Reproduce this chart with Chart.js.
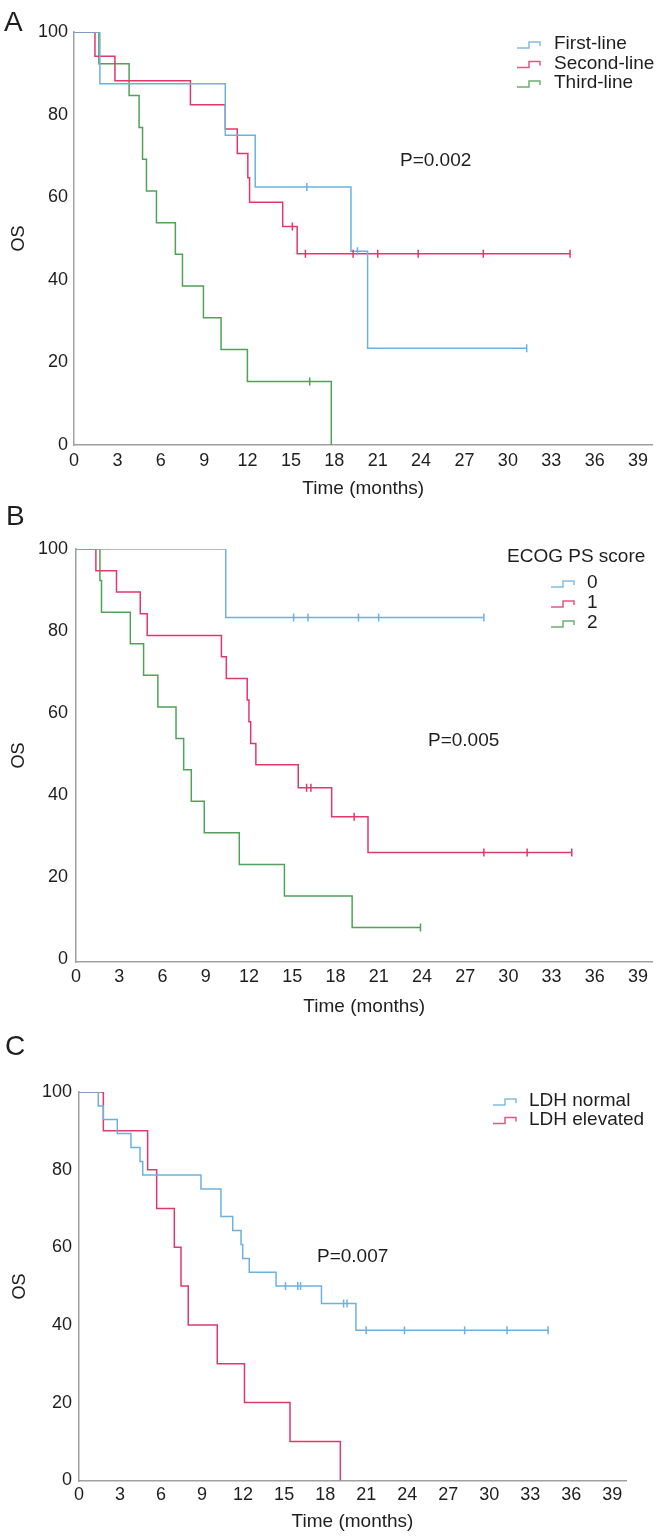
<!DOCTYPE html>
<html><head><meta charset="utf-8">
<script src="https://cdn.jsdelivr.net/npm/chart.js@4.4.1/dist/chart.umd.min.js"></script>
<style>
html,body{margin:0;padding:0;background:#fff;}
body{width:658px;height:1537px;position:relative;overflow:hidden;}
.pane{position:absolute;left:0;width:658px;}
canvas{display:block;}
</style></head><body>
<div class="pane" style="top:0;height:505px"><canvas id="cA" width="658" height="505"></canvas></div>
<div class="pane" style="top:505px;height:520px"><canvas id="cB" width="658" height="520"></canvas></div>
<div class="pane" style="top:1025px;height:512px"><canvas id="cC" width="658" height="512"></canvas></div>
<script>
// ---------- tick labels ----------
const xTickVals = [0,3,6,9,12,15,18,21,24,27,30,33,36,39];
const yTickVals = [0,20,40,60,80,100];

// ---------- Panel A : treatment line ----------
const aNames = ['First-line','Second-line','Third-line'];
const aFirstT  = [0,1.79,10.46,12.53,19.15,20.3,31.3];
const aFirstS  = [100,87.5,75,62.5,46.9,23.4,23.4];
const aFirstCT = [16.1,19.6,31.3];
const aFirstCS = [62.5,46.9,23.4];
const aSecondT  = [0,1.45,2.83,8.05,10.46,11.29,12.02,12.14,14.43,15.43,34.3];
const aSecondS  = [100,94.1,88.2,82.4,76.5,70.6,64.7,58.8,52.9,46.3,46.3];
const aSecondCT = [15.1,16.0,19.3,21.0,23.8,28.3,34.3];
const aSecondCS = [52.9,46.3,46.3,46.3,46.3,46.3,46.3];
const aThirdT  = [0,1.72,3.81,4.5,4.74,5.01,5.70,7.01,7.50,8.95,10.17,11.99,17.79];
const aThirdS  = [100,92.3,84.6,76.9,69.2,61.5,53.8,46.2,38.5,30.8,23.1,15.4,0];
const aThirdCT = [16.3];
const aThirdCS = [15.4];
const aP = 'P=0.002';

// ---------- Panel B : ECOG PS score ----------
const bTitle = 'ECOG PS score';
const bNames = ['0','1','2'];
const b0T  = [0,10.39,28.3];
const b0S  = [100,83.3,83.3];
const b0CT = [15.1,16.1,19.6,21.0,28.3];
const b0CS = [83.3,83.3,83.3,83.3,83.3];
const b1T  = [0,1.38,2.81,4.46,4.94,10.09,10.43,11.88,12.0,12.12,12.48,15.42,17.74,20.26,34.4];
const b1S  = [100,94.7,89.5,84.2,78.9,73.7,68.4,63.2,57.9,52.6,47.4,41.8,34.7,26.0,26.0];
const b1CT = [16.0,16.3,19.3,28.3,31.3,34.4];
const b1CS = [41.8,41.8,34.7,26.0,26.0,26.0];
const b2T  = [0,1.66,1.77,3.77,4.69,5.68,6.94,7.47,8.0,8.9,11.33,14.46,19.16,23.9];
const b2S  = [100,92.3,84.6,76.9,69.2,61.5,53.8,46.2,38.5,30.8,23.1,15.4,7.7,7.7];
const b2CT = [23.9];
const b2CS = [7.7];
const bP = 'P=0.005';

// ---------- Panel C : LDH ----------
const cNames = ['LDH normal','LDH elevated'];
const cNormT  = [0,1.41,1.78,2.80,3.80,4.46,4.66,8.92,10.38,11.24,11.85,11.97,12.45,14.41,17.73,20.25,34.3];
const cNormS  = [100,96.4,92.9,89.3,85.7,82.1,78.6,75.0,67.9,64.3,60.7,57.1,53.6,50.0,45.5,38.6,38.6];
const cNormCT = [15.1,16.0,16.2,19.35,19.6,21.0,23.8,28.2,31.3,34.3];
const cNormCS = [50,50,50,45.5,45.5,38.6,38.6,38.6,38.6,38.6];
const cElevT  = [0,1.78,5.02,5.68,6.97,7.46,7.99,10.11,12.1,15.43,19.11];
const cElevS  = [100,90,80,70,60,50,40,30,20,10,0];
const cP = 'P=0.007';

// ---------- styling ----------
const FONT = "'Liberation Sans', Arial, Helvetica, sans-serif";
const TEXT = '#1e1e1e';
const AXIS = '#a0a0a0';
const BLUE = '#6db1de', RED = '#e0386b', GREEN = '#52a05a';

function curve(label, color, T, S) {
  return {type:'line', label, legendItem:true, data:T.map((t,i)=>({x:t,y:S[i]})),
    borderColor:color, backgroundColor:color, borderWidth:1.5, stepped:'before',
    pointRadius:0, pointHoverRadius:0, fill:false, order:2};
}
function censor(color, T, S) {
  return {type:'line', label:'', legendItem:false, data:T.map((t,i)=>({x:t,y:S[i]})),
    borderColor:color, backgroundColor:color, borderWidth:1.5, showLine:false,
    pointStyle:'line', rotation:90, pointRadius:4, pointHoverRadius:4, order:1};
}

const decor = {
  id:'decor',
  afterDraw(chart, args, o) {
    const ctx = chart.ctx;
    ctx.save();
    ctx.fillStyle = TEXT;
    ctx.textBaseline = 'middle';
    ctx.textAlign = 'left';
    ctx.font = o.letterSize + 'px ' + FONT;
    ctx.fillText(o.letter, o.letterX, o.letterY);
    ctx.font = '19px ' + FONT;
    ctx.fillText(o.p, o.pX, o.pY);
    if (o.legendTitle) ctx.fillText(o.legendTitle, o.ltX, o.ltY);
    const items = chart.data.datasets.filter(d => d.legendItem);
    items.forEach((d, i) => {
      const y = o.legY + i * o.legDy;
      const x = o.legX;
      ctx.strokeStyle = d.borderColor;
      ctx.globalAlpha = 0.85;
      ctx.lineWidth = 1.5;
      ctx.beginPath();
      ctx.moveTo(x, y + 4); ctx.lineTo(x + 12, y + 4); ctx.lineTo(x + 12, y - 2);
      ctx.lineTo(x + 23, y - 2); ctx.lineTo(x + 23, y + 2);
      ctx.stroke();
      ctx.globalAlpha = 1;
      ctx.fillText(d.label, o.legTextX, y);
    });
    ctx.restore();
  }
};

function makeScales(o) {
  return {
    x: {
      type:'linear', min:0, max:40,
      afterBuildTicks: s => { s.ticks = xTickVals.map(v => ({value:v})); },
      afterFit: s => { s.height = o.xH; },
      grid:{display:false, drawTicks:false},
      border:{display:true, color:AXIS, width:1.5},
      ticks:{color:TEXT, font:{size:18, family:FONT}, padding:o.xPad, maxRotation:0, autoSkip:false,
        callback:(v)=>String(v)},
      title:{display:true, text:'Time (months)', color:TEXT, font:{size:19, family:FONT},
        padding:{top:0, bottom:o.xTitlePad}}
    },
    y: {
      type:'linear', min:o.yMin, max:100,
      afterBuildTicks: s => { s.ticks = yTickVals.map(v => ({value:v})); },
      afterFit: s => { s.width = o.yW; },
      grid:{display:false, drawTicks:false},
      border:{display:true, color:AXIS, width:1.5},
      ticks:{color:TEXT, font:{size:18, family:FONT}, padding:o.yPad, callback:(v)=>String(v)},
      title:{display:true, text:'OS', color:TEXT, font:{size:18, family:FONT},
        padding:{top:o.yTitlePad, bottom:0}}
    }
  };
}

function makeChart(id, datasets, lay, sc, dec) {
  return new Chart(document.getElementById(id), {
    type:'line',
    data:{datasets},
    options:{
      responsive:false, animation:false, devicePixelRatio:1,
      events:[],
      layout:{padding:lay},
      plugins:{legend:{display:false}, tooltip:{enabled:false}, decor:dec},
      scales:makeScales(sc)
    },
    plugins:[decor]
  });
}

makeChart('cA', [
  curve(aNames[0], BLUE, aFirstT, aFirstS),
  curve(aNames[1], RED, aSecondT, aSecondS),
  curve(aNames[2], GREEN, aThirdT, aThirdS),
  censor(BLUE, aFirstCT, aFirstCS),
  censor(RED, aSecondCT, aSecondCS),
  censor(GREEN, aThirdCT, aThirdCS)
], {top:32, right:3, bottom:0, left:0},
{xH:60, xPad:5, xTitlePad:5, yMin:0, yW:74, yPad:6, yTitlePad:8},
{letter:'A', letterSize:28, letterX:4, letterY:23, p:aP, pX:400, pY:161,
 legX:517, legTextX:554, legY:44, legDy:19.5});

makeChart('cB', [
  curve(bNames[0], BLUE, b0T, b0S),
  curve(bNames[1], RED, b1T, b1S),
  curve(bNames[2], GREEN, b2T, b2S),
  censor(BLUE, b0CT, b0CS),
  censor(RED, b1CT, b1CS),
  censor(GREEN, b2CT, b2CS)
], {top:44, right:1, bottom:0, left:0},
{xH:63, xPad:4, xTitlePad:7, yMin:-0.7, yW:76, yPad:8, yTitlePad:8},
{letter:'B', letterSize:28, letterX:6, letterY:12, p:bP, pX:428, pY:236,
 legendTitle:bTitle, ltX:507, ltY:52, legX:551, legTextX:587, legY:78, legDy:20});

makeChart('cC', [
  curve(cNames[0], BLUE, cNormT, cNormS),
  curve(cNames[1], RED, cElevT, cElevS),
  censor(BLUE, cNormCT, cNormCS)
], {top:67, right:32, bottom:0, left:0},
{xH:56, xPad:3, xTitlePad:4, yMin:-0.2, yW:79, yPad:7, yTitlePad:9},
{letter:'C', letterSize:28, letterX:5, letterY:22, p:cP, pX:317, pY:232,
 legX:493, legTextX:529, legY:76, legDy:18.5});
</script>
</body></html>
